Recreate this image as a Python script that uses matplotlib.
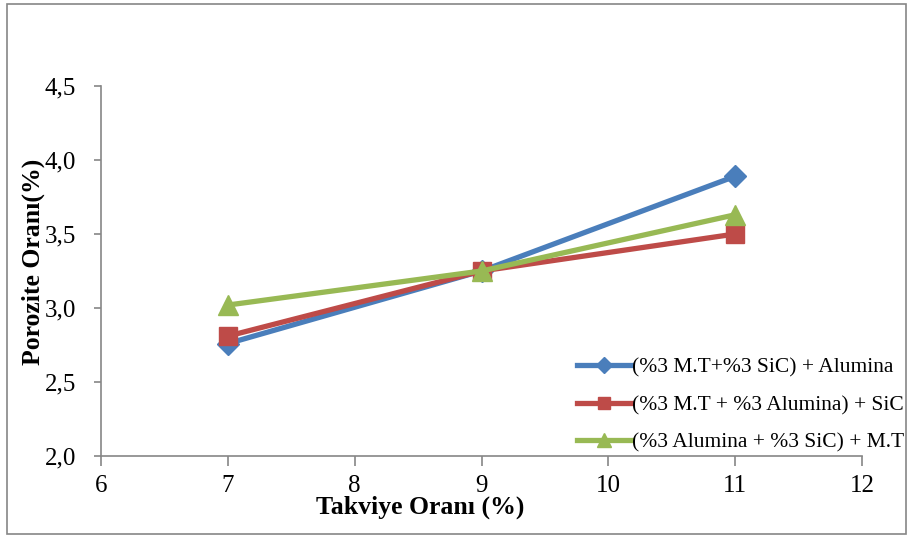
import matplotlib
matplotlib.use("Agg")
import matplotlib.pyplot as plt
from matplotlib.ticker import FuncFormatter
from matplotlib.patches import Rectangle

x_vals = [7, 9, 11]
s1 = [2.76, 3.25, 3.89]
s2 = [2.81, 3.25, 3.50]
s3 = [3.02, 3.25, 3.63]
labels = ["(%3 M.T+%3 SiC) + Alumina",
          "(%3 M.T + %3 Alumina) + SiC",
          "(%3 Alumina + %3 SiC) + M.T"]
colors = ["#4a7ebb", "#be4b48", "#98b954"]
markers = ["D", "s", "^"]
msizes = [11, 13, 14]

plt.rcParams['font.family'] = ['Liberation Serif', 'DejaVu Serif']

W, H = 907, 538
fig = plt.figure(figsize=(W/100, H/100), dpi=100)
ax = fig.add_axes([101/W, 1-456/H, (862-101)/W, (456-86)/H])

for ys, lab, c, m, ms in zip([s1, s2, s3], labels, colors, markers, msizes):
    ax.plot(x_vals, ys, color=c, lw=3.8, marker=m, markersize=ms, label=lab)

ax.set_xlim(6, 12)
ax.set_ylim(2.0, 4.5)
ax.set_xticks(range(6, 13))
ax.set_yticks([2.0, 2.5, 3.0, 3.5, 4.0, 4.5])
ax.yaxis.set_major_formatter(FuncFormatter(lambda v, p: f"{v:.1f}".replace(".", ",")))
for s in ["top", "right"]:
    ax.spines[s].set_visible(False)
for s in ["left", "bottom"]:
    ax.spines[s].set_color("#868686")
    ax.spines[s].set_linewidth(1.2)
ax.tick_params(axis="both", direction="out", color="#868686", labelsize=18, width=1.2)
ax.tick_params(axis="x", length=7, pad=7)
ax.tick_params(axis="y", length=5, pad=13)

ax.set_xlabel("Takviye Oranı (%)", fontsize=18.5, fontweight="bold")
ax.xaxis.set_label_coords(0.42, -0.106)
ax.set_ylabel("Porozite Oranı(%)", fontsize=18.5, fontweight="bold")
ax.yaxis.set_label_coords(-0.074, 0.524)

leg = fig.legend(loc="center left", bbox_to_anchor=(577/W, 1-405/H), frameon=False, fontsize=15.5,
                 handlelength=2.5, labelspacing=0.8, handletextpad=0.05, borderaxespad=0.0,
                 borderpad=0.0, markerscale=0.7)

fig.patches.append(Rectangle((7/W, 1-534/H), (906-7)/W, (534-4)/H, transform=fig.transFigure,
                             fill=False, edgecolor="#868686", lw=1.2))

fig.savefig("out.png", dpi=100)
